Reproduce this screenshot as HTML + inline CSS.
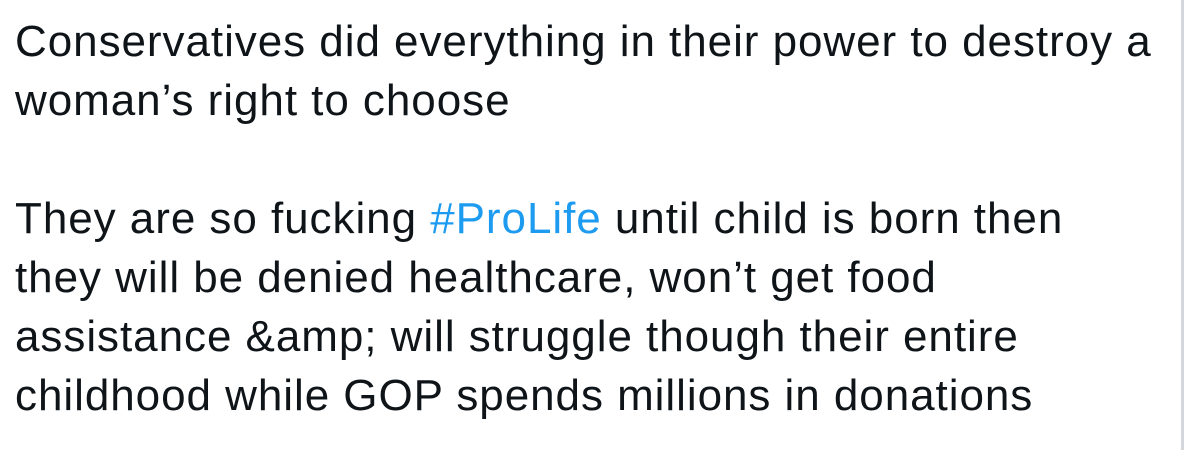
<!DOCTYPE html>
<html><head><meta charset="utf-8">
<style>
html,body{margin:0;padding:0;background:#fff;width:1184px;height:450px;overflow:hidden;}
#tweet{position:absolute;left:15px;top:12px;font-family:"Liberation Sans",Arial,sans-serif;font-size:44px;line-height:59px;color:#0f1419;white-space:nowrap;letter-spacing:0.95px;}
.line{height:59px;}
.tag{color:#1d9bf0;}
#edge{position:absolute;left:1181px;top:0;width:3px;height:450px;background:#d4d8dc;}
</style></head>
<body>
<div id="tweet">
<div class="line" id="l1">Conservatives did everything in their power to destroy a</div>
<div class="line">woman’s right to choose</div>
<div class="line">&nbsp;</div>
<div class="line">They are so fucking <span class="tag">#ProLife</span> until child is born then</div>
<div class="line">they will be denied healthcare, won’t get food</div>
<div class="line">assistance &amp;amp; will struggle though their entire</div>
<div class="line">childhood while GOP spends millions in donations</div>
</div>
<div id="edge"></div>
</body></html>
